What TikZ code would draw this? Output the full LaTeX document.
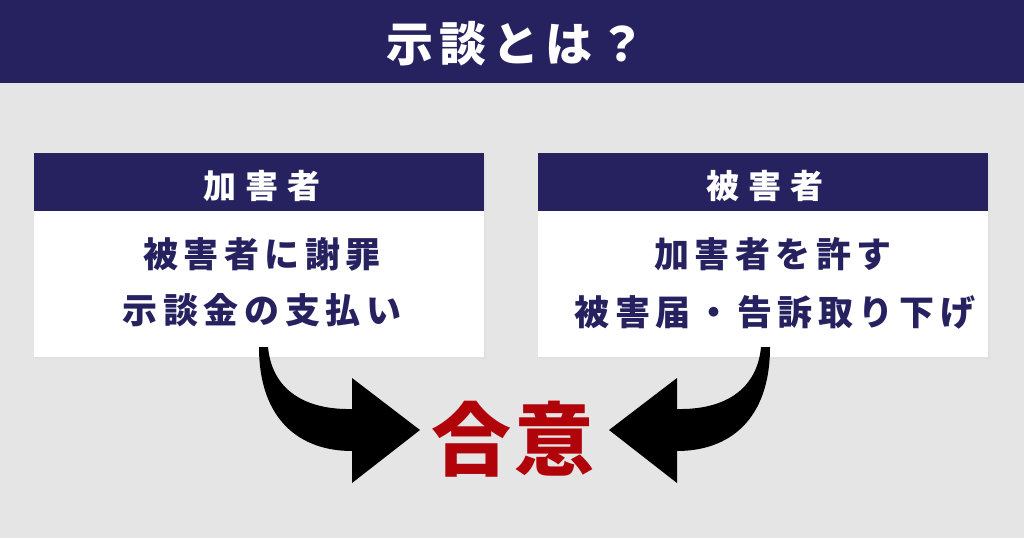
\documentclass[tikz,border=0pt]{standalone}
\usepackage{fontspec}
\newfontfamily\jp{Noto Sans CJK JP}
\definecolor{navy}{RGB}{38,34,96}
\definecolor{bgc}{RGB}{229,229,229}
\definecolor{redc}{RGB}{176,4,10}
\tikzset{
  headbar/.style={fill=navy,inner sep=0pt,minimum width=450pt,minimum height=58pt,anchor=north west},
  bodybox/.style={fill=white,inner sep=0pt,minimum width=450pt,minimum height=204pt,anchor=north west},
  headtxt/.style={text=white,inner sep=0pt,font=\jp\bfseries\fontsize{33}{36}\selectfont\addfontfeature{LetterSpace=26}},
  bodytxt/.style={text=navy,inner sep=0pt,font=\jp\bfseries\fontsize{35}{38}\selectfont\addfontfeature{LetterSpace=16}},
  bigarrow/.style={fill=black}
}
\begin{document}
\begin{tikzpicture}[x=1pt,y=-1pt]
\useasboundingbox (0,0) rectangle (1024,538);
\fill[bgc] (0,0) rectangle (1024,538);
\fill[navy] (0,0) rectangle (1024,83);
\node[text=white,inner sep=0pt,font=\jp\bfseries\fontsize{47}{50}\selectfont\addfontfeature{LetterSpace=13}] (title) at (516,44) {示談とは？};
% left box
\fill[black!12] (35,155) rectangle (486,359);
\node[bodybox] (lbox) at (34,153) {};
\node[headbar] (lhead) at (34,153) {};
\node[headtxt] (lheadt) at (262,186) {加害者};
\node[bodytxt] (l1) at (262,254) {被害者に謝罪};
\node[bodytxt] (l2) at (262,310) {示談金の支払い};
% right box
\fill[black!12] (539,155) rectangle (990,359);
\node[bodybox] (rbox) at (538,153) {};
\node[headbar] (rhead) at (538,153) {};
\node[headtxt] (rheadt) at (765,186) {被害者};
\node[bodytxt] (r1) at (773,254) {加害者を許す};
\node[bodytxt] (r2) at (775,312) {被害届・告訴取り下げ};
% agreement
\node[text=redc,inner sep=0pt,font=\jp\bfseries\fontsize{80}{84}\selectfont\addfontfeature{LetterSpace=3}] (gou) at (513,439) {合意};
% arrows
\coordinate (la) at (263,347);
\fill[bigarrow] (259,347) .. controls (259,420) and (300,451) .. (352,451)
  -- (352,483) -- (420,430) -- (352,378) -- (352,409)
  .. controls (305,410) and (272,390) .. (268,347) -- cycle;
\begin{scope}[shift={(1029,0)},xscale=-1]
\fill[bigarrow] (259,347) .. controls (259,420) and (300,451) .. (352,451)
  -- (352,483) -- (420,430) -- (352,378) -- (352,409)
  .. controls (305,410) and (272,390) .. (268,347) -- cycle;
\end{scope}
\end{tikzpicture}
\end{document}
